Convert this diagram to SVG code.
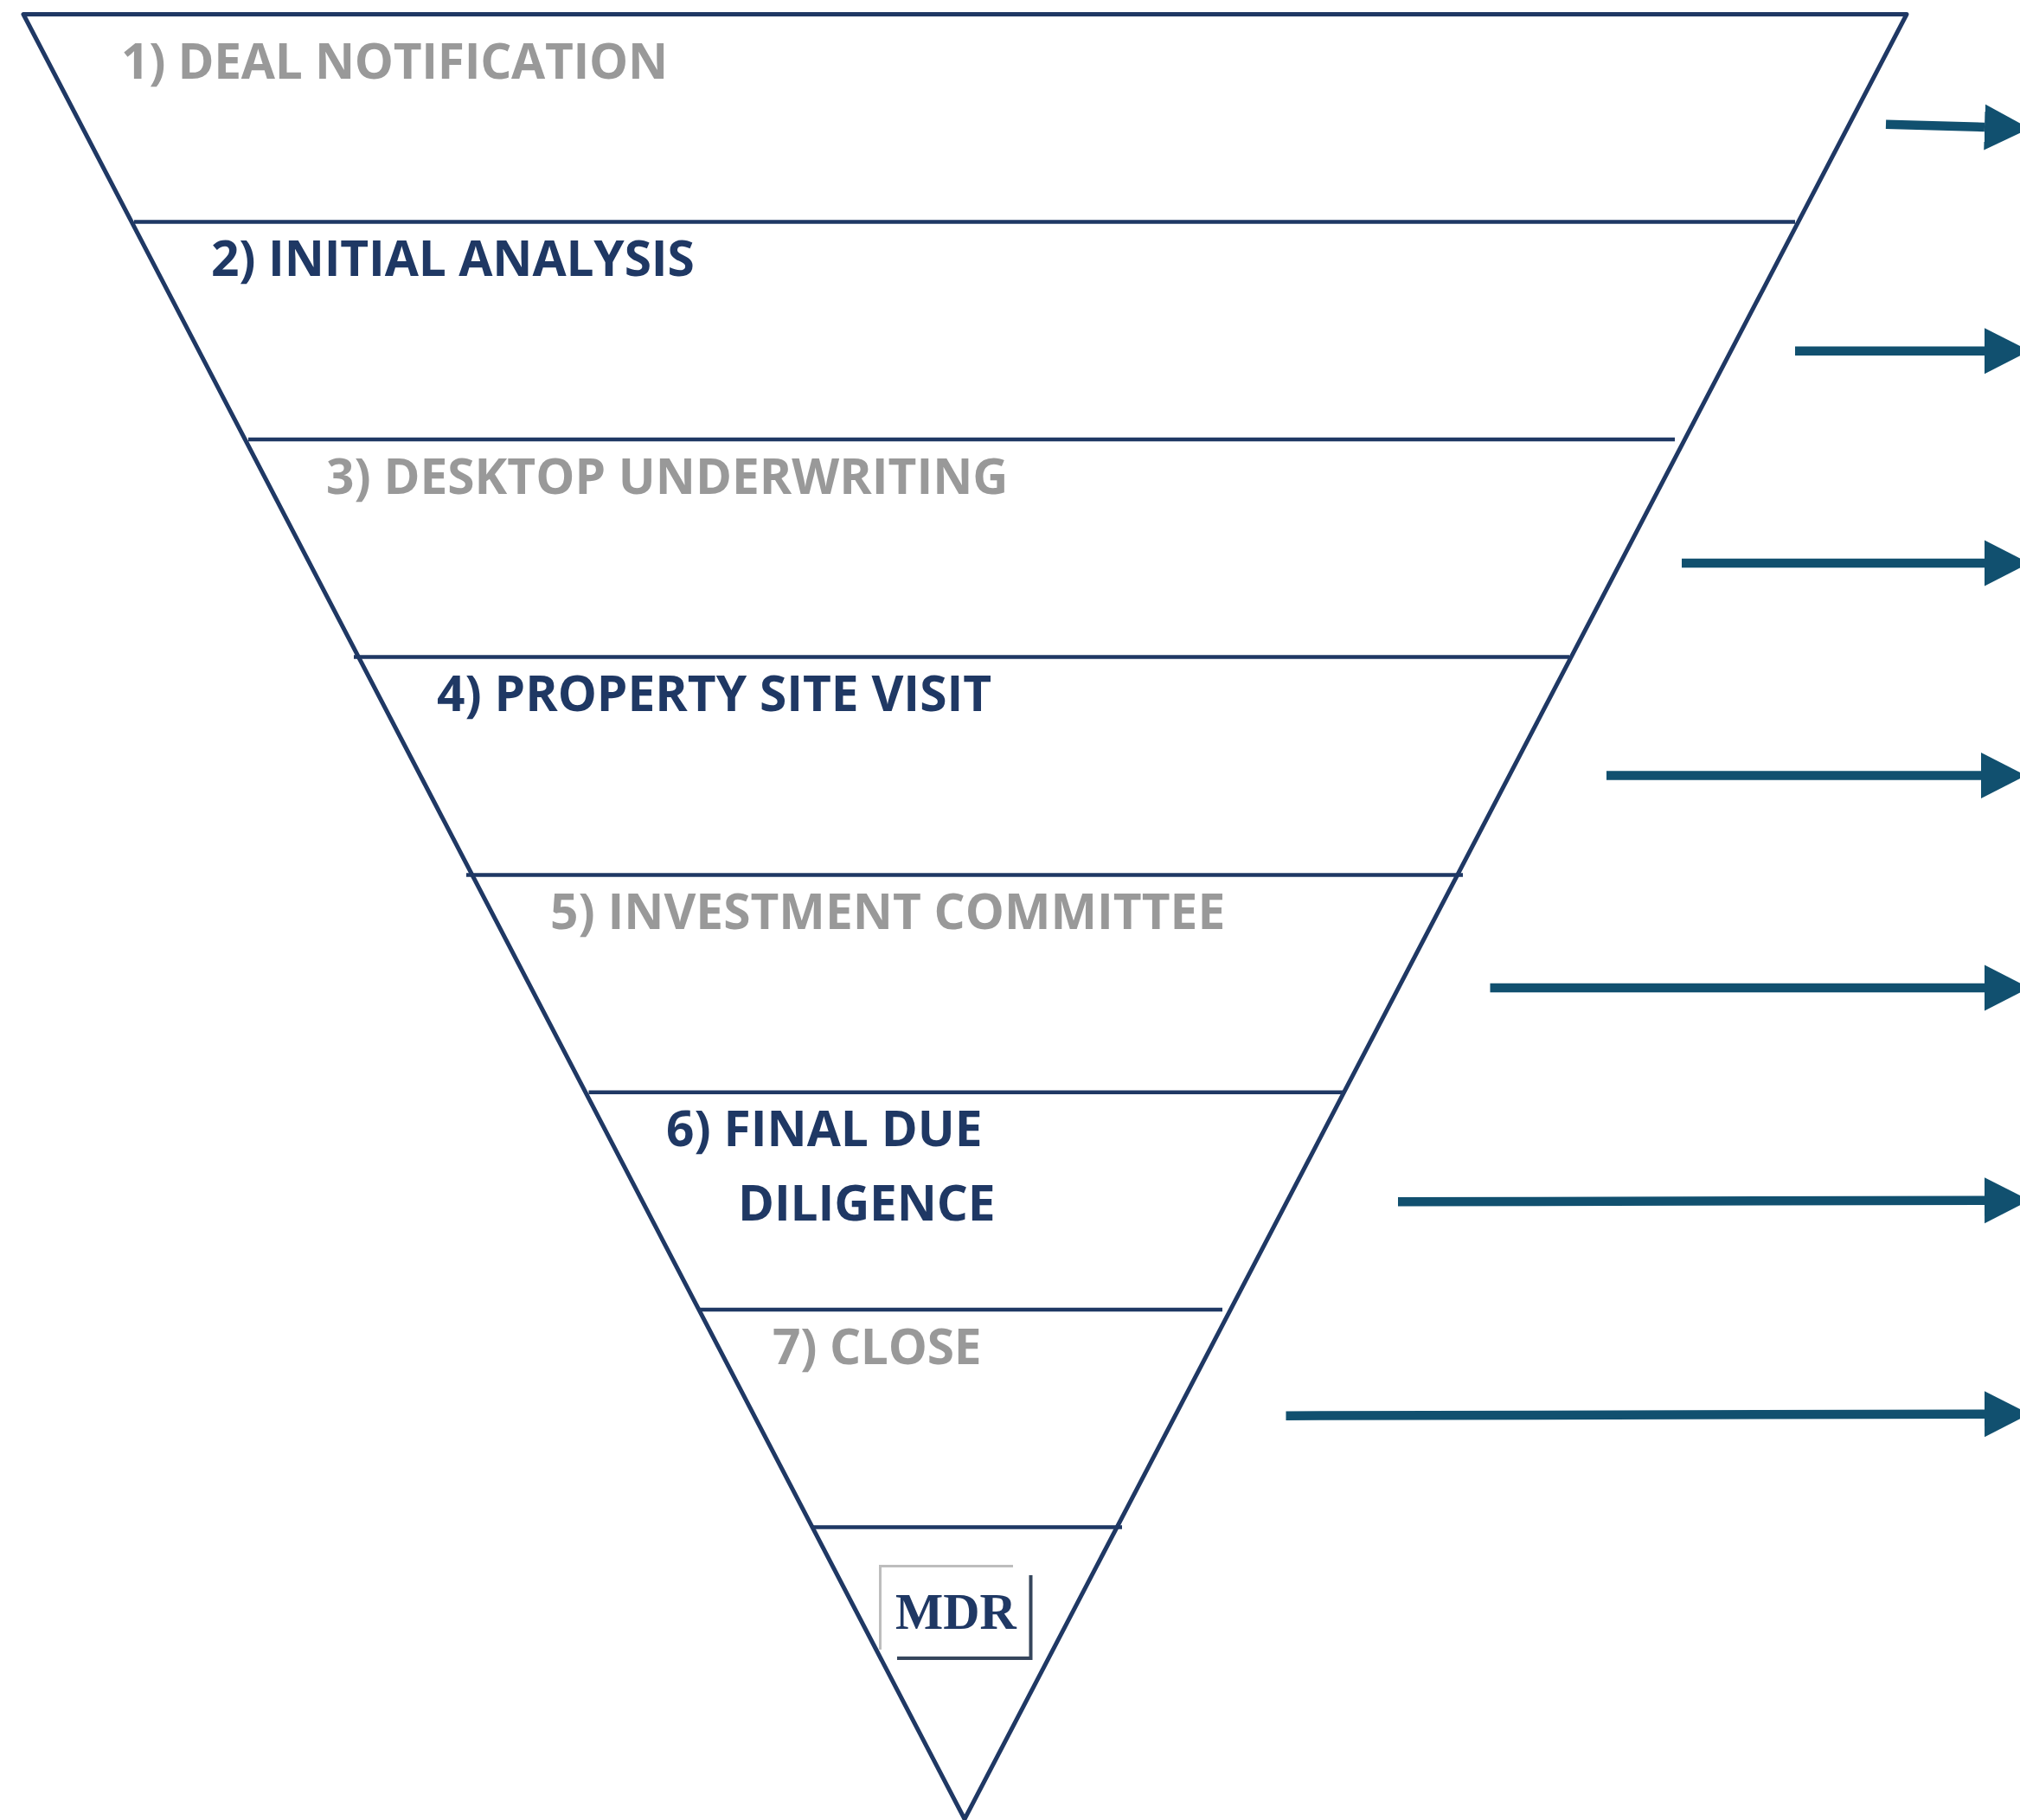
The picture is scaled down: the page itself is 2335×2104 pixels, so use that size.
<svg xmlns="http://www.w3.org/2000/svg" width="2335" height="2104" viewBox="0 0 2335 2104">
<style>
.f{fill:none;stroke:#1f3864;stroke-width:5;stroke-linejoin:round}
.d{stroke:#1f3864;stroke-width:4.500}
.a{stroke:#11506f;stroke-width:10.500;fill:none;marker-end:url(#h)}
text{font-family:"Open Sans","Liberation Sans",sans-serif;font-weight:700;font-size:56.800px}
.g{fill:#999}
.n{fill:#1f3864}
</style>
<defs><marker id="h" markerUnits="userSpaceOnUse" markerWidth="54" markerHeight="56" refX="0" refY="28" orient="auto"><path d="M0 1.500L52 28L0 54.500Z" fill="#11506f"/></marker></defs>
<rect width="2335" height="2104" fill="#fff"/>
<g id="funnel"><path class="f" d="M27 16.500H2204L1115 2103Z"/></g>
<g id="dividers">
<path class="d" d="M155 256.500H2075M287 508H1936M409 759.500H1814M539 1011.500H1691M680.500 1262.700H1553M808 1514H1413M939 1765.500H1297"/>
</g>
<g id="connectors">
<path class="a" d="M2180 143.700L2294 147"/>
<path class="a" d="M2075 405.700H2294"/>
<path class="a" d="M1944 651H2294"/>
<path class="a" d="M1857 896.500H2290"/>
<path class="a" d="M1722.500 1142H2294"/>
<path class="a" d="M1616 1389.300L2294 1387.700"/>
<path class="a" d="M1486.500 1636.700L2294 1634.700"/>
</g>
<g id="step1"><text class="g" x="140" y="90.700" letter-spacing="-0.300">1) DEAL NOTIFICATION</text></g>
<g id="step2"><text class="n" x="244" y="319" letter-spacing="-0.150">2) INITIAL ANALYSIS</text></g>
<g id="step3"><text class="g" x="377" y="570.700">3) DESKTOP UNDERWRITING</text></g>
<g id="step4"><text class="n" x="505" y="822">4) PROPERTY SITE VISIT</text></g>
<g id="step5"><text class="g" x="636" y="1073.500">5) INVESTMENT COMMITTEE</text></g>
<g id="step6"><text class="n" x="770" y="1325">6) FINAL DUE</text><text class="n" x="853" y="1410.500" letter-spacing="-0.150">DILIGENCE</text></g>
<g id="step7"><text class="g" x="893" y="1576.700" letter-spacing="-0.200">7) CLOSE</text></g>
<g id="logo">
<path d="M1171 1810.500H1017.500V1907" fill="none" stroke="#bdbdbd" stroke-width="3"/>
<path d="M1191.500 1821V1917H1037" fill="none" stroke="#36465d" stroke-width="4"/>
<text x="1035" y="1883" style="font-family:'Liberation Serif',serif;font-size:58.500px" class="n">MDR</text>
</g>
</svg>
